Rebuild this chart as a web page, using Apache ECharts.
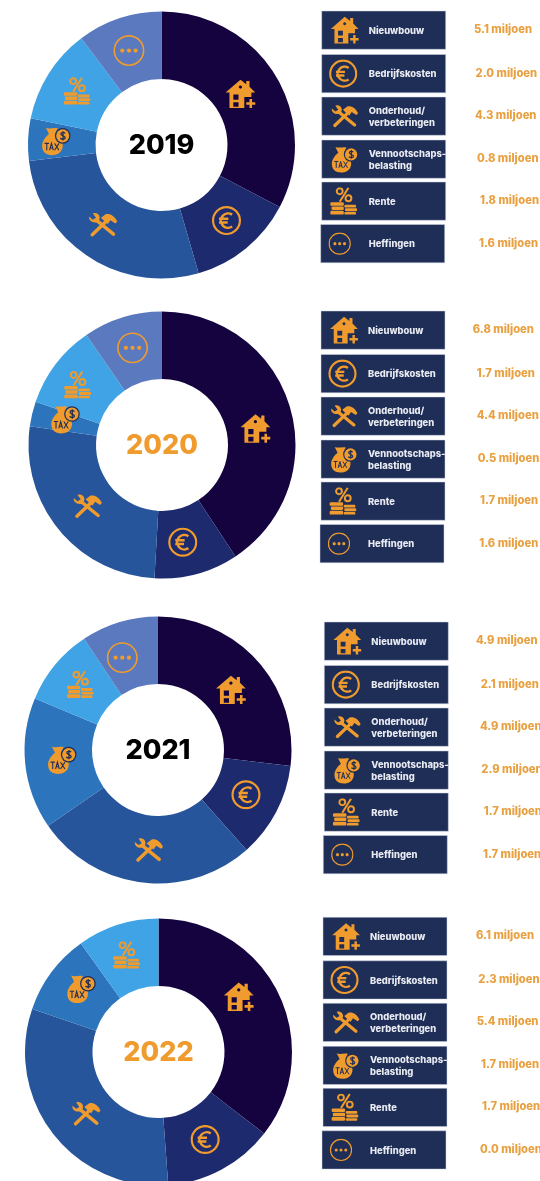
<!DOCTYPE html>
<html>
<head>
<meta charset="utf-8">
<title>Uitgaven per jaar</title>
<style>
  html, body { margin: 0; padding: 0; background: #fff; overflow: hidden; }
  #chart { width: 540px; height: 1181px; filter: blur(0.4px); }
</style>
<script src="https://cdn.jsdelivr.net/npm/echarts@6/dist/echarts.min.js"></script>
</head>
<body>
<div id="chart"></div>
<script>
const years = ['2019', '2020', '2021', '2022'];
const categories = ['Nieuwbouw', 'Bedrijfskosten', 'Onderhoud/\nverbeteringen', 'Vennootschaps-\nbelasting', 'Rente', 'Heffingen'];
const values2019 = [5.1, 2.0, 4.3, 0.8, 1.8, 1.6];
const values2020 = [6.8, 1.7, 4.4, 0.5, 1.7, 1.6];
const values2021 = [4.9, 2.1, 4.9, 2.9, 1.7, 1.7];
const values2022 = [6.1, 2.3, 5.4, 1.7, 1.7, 0.0];
const allValues = [values2019, values2020, values2021, values2022];

const sliceColors = ['#14033f', '#1e2a6e', '#27559b', '#2c74bb', '#3fa3e6', '#5a79bf'];
const yearColors = ['#000000', '#ef9b2d', '#000000', '#ef9b2d'];
const ORANGE = '#ef9b2d';
const VALUE_ORANGE = '#e9a040';
const PANEL = '#1f2e57';

// layout, one entry per year
const pieCenters = [[161.5, 145], [162, 445], [158, 750], [158.5, 1052]];
const panelLeft = [321.7, 321, 324.3, 323];
const panelTop = [11, 311, 622, 917.3];
const rowOffset = [0, 43.5, 86, 129, 171, 213.5];
const valueLeft = [
  [474, 475.6, 475, 477, 480, 479],
  [472.7, 476.7, 476.7, 477.7, 480, 479.3],
  [476, 480.7, 480, 481.3, 483.7, 483],
  [476, 478.3, 476.7, 481, 482, 480]
];
const panelIconDx = [23, 21.5, 23, 23, 21.5, 19];
const panelIconSize = [29, 29, 28, 28, 28, 23];
const pieIconSize = [31, 30, 30, 30, 28, 32];
// the icons in the source are placed by hand, so they are a bit off the mid radius
const pieIconNudge = [
  [[-9, 2], [0, -4], [-2, -6], [-3, 0], [2, 1], [0, 3]],
  [[-5, 13], [-6, -2], [5, -4], [3, -2], [-3, 2], [1, 1]],
  [[-4, 8], [-3, -3], [3, -2], [6, -1], [1, 0], [-6, 6]],
  [[-12, -10], [-2, -3], [9, -1], [5, -2], [-1, 1], [0, 0]]
];

function svgUri(body) {
  const svg = '<svg xmlns="http://www.w3.org/2000/svg" width="96" height="96" viewBox="0 0 48 48">' + body + '</svg>';
  return 'data:image/svg+xml;charset=utf-8,' + encodeURIComponent(svg);
}

const iconHouse = svgUri(
  '<path fill="' + ORANGE + '" fill-rule="evenodd" d="M24 2L33 9V4H38V13L47 22H41V29H30V46H7V22H1ZM24 11a2.5 2.5 0 1 0 .01 0ZM13 25V33H21V25ZM13 37V44H21V37ZM33 37H38V32H42V37H47V41H42V46H38V41H33Z"/>'
);
const iconEuro = svgUri(
  '<circle cx="24" cy="24" r="21.5" fill="none" stroke="' + ORANGE + '" stroke-width="3.5"/>' +
  '<path d="M33 14.5A11.5 11.5 0 1 0 33 33.5M12 21H27M12 27H26" fill="none" stroke="' + ORANGE + '" stroke-width="4"/>'
);
const iconTools = svgUri(
  '<path d="M14 17L41 39" stroke="' + ORANGE + '" stroke-width="5.5" stroke-linecap="round"/>' +
  '<path fill="' + ORANGE + '" d="M2 11L8 16L13 13L8 6C12 4 18 6 19 12C19 15 18 18 15 20C8 22 1 18 2 11Z"/>' +
  '<path d="M7 40L30 18" stroke="' + ORANGE + '" stroke-width="5.5" stroke-linecap="round"/>' +
  '<path fill="' + ORANGE + '" d="M21 13L29 7C36 6 43 10 47 19L44 22L36 17L32 23L27 19Z"/>'
);
const iconTax = svgUri(
  '<path fill="' + ORANGE + '" d="M8 3C13 6 21 2 27 4L23 13C32 17 36 26 35 34C33 44 25 47 18 47C8 47 2 42 2 32C2 24 8 17 13 13Z"/>' +
  '<circle cx="35" cy="16" r="12.5" fill="' + PANEL + '"/><circle cx="35" cy="16" r="10.5" fill="' + ORANGE + '"/>' +
  '<path d="M39 12C37 10 32 10 32 13C32 16 39 16 39 19C39 22 34 22 31 20M35.5 8.5V23.5" fill="none" stroke="' + PANEL + '" stroke-width="2"/>' +
  '<path d="M6 28H13M9.5 28V39M14 39L17 28L20 39M15 35.5H19M22 28L29 39M29 28L22 39" fill="none" stroke="' + PANEL + '" stroke-width="1.7"/>'
);
const iconRente = svgUri(
  '<path fill="none" stroke="' + ORANGE + '" stroke-width="3.5" d="M33 1L18 25"/>' +
  '<circle cx="18" cy="7" r="5" fill="none" stroke="' + ORANGE + '" stroke-width="3.4"/>' +
  '<circle cx="33" cy="19" r="5" fill="none" stroke="' + ORANGE + '" stroke-width="3.4"/>' +
  '<rect x="2" y="26" width="23" height="6" rx="2" fill="' + ORANGE + '"/>' +
  '<rect x="4" y="33.2" width="21" height="6" rx="2" fill="' + ORANGE + '"/>' +
  '<rect x="2" y="40.4" width="23" height="6.6" rx="2" fill="' + ORANGE + '"/>' +
  '<rect x="26" y="30" width="20" height="5" rx="2" fill="' + ORANGE + '"/>' +
  '<rect x="27" y="36.2" width="21" height="5" rx="2" fill="' + ORANGE + '"/>' +
  '<rect x="26" y="42.4" width="20" height="4.6" rx="2" fill="' + ORANGE + '"/>'
);
const iconDots = svgUri(
  '<circle cx="24" cy="24" r="22" fill="none" stroke="' + ORANGE + '" stroke-width="2.4"/>' +
  '<circle cx="14" cy="24" r="3.2" fill="' + ORANGE + '"/><circle cx="24" cy="24" r="3.2" fill="' + ORANGE + '"/><circle cx="34" cy="24" r="3.2" fill="' + ORANGE + '"/>'
);
const icons = [iconHouse, iconEuro, iconTools, iconTax, iconRente, iconDots];

const FONT = 'Inter, "Noto Sans", sans-serif';
const PANEL_H = 38.3;
const PANEL_W = 124;

function pieSeries(values, yi) {
  return {
    type: 'pie',
    center: pieCenters[yi],
    radius: [66, 133.5],
    startAngle: 90,
    clockwise: true,
    silent: true,
    avoidLabelOverlap: false,
    labelLine: { show: false },
    emphasis: { disabled: true },
    labelLayout: function (p) {
      const n = pieIconNudge[yi][p.dataIndex];
      return { dx: n[0], dy: n[1] };
    },
    data: values.map(function (v, i) {
      const rich = {};
      rich.ic = { width: pieIconSize[i], height: pieIconSize[i], backgroundColor: { image: icons[i] } };
      return {
        name: categories[i],
        value: v,
        itemStyle: { color: sliceColors[i] },
        label: { show: v > 0, position: 'inside', formatter: '{ic|}', rich: rich }
      };
    })
  };
}

const elements = [];
years.forEach(function (year, yi) {
  elements.push({
    type: 'text',
    silent: true,
    style: {
      x: pieCenters[yi][0], y: pieCenters[yi][1] + 1,
      text: year, fill: yearColors[yi],
      font: '800 27px ' + FONT, align: 'center', verticalAlign: 'middle'
    }
  });
  categories.forEach(function (cat, i) {
    const top = panelTop[yi] + rowOffset[i];
    const shift = i === 5 ? -1 : 0;
    const left = panelLeft[yi] + shift;
    const mid = top + PANEL_H / 2;
    const size = panelIconSize[i];
    elements.push({
      type: 'rect', silent: true,
      shape: { x: left, y: top, width: PANEL_W, height: PANEL_H },
      style: { fill: PANEL, stroke: '#cfd4e2', lineWidth: 0.5 }
    });
    elements.push({
      type: 'image', silent: true, z: 10,
      style: {
        image: icons[i], x: left + panelIconDx[i] - size / 2, y: mid - size / 2,
        width: size, height: size
      }
    });
    const lines = cat.split('\n');
    elements.push({
      type: 'text', silent: true, z: 10,
      style: {
        x: panelLeft[yi] + 47, y: mid + 1, text: cat, fill: '#e9ebf2',
        font: '800 9.4px ' + FONT, align: 'left', verticalAlign: 'middle',
        lineHeight: lines.length > 1 ? 12 : 11
      }
    });
    elements.push({
      type: 'text', silent: true,
      style: {
        x: valueLeft[yi][i], y: mid - 0.5,
        text: allValues[yi][i].toFixed(1) + ' miljoen', fill: VALUE_ORANGE,
        font: '800 11.2px ' + FONT, align: 'left', verticalAlign: 'middle'
      }
    });
  });
});

const chart = echarts.init(document.getElementById('chart'), null, { renderer: 'canvas' });
chart.setOption({
  animation: false,
  backgroundColor: '#ffffff',
  tooltip: { show: false },
  series: allValues.map(pieSeries),
  graphic: { elements: elements }
});
</script>
</body>
</html>
